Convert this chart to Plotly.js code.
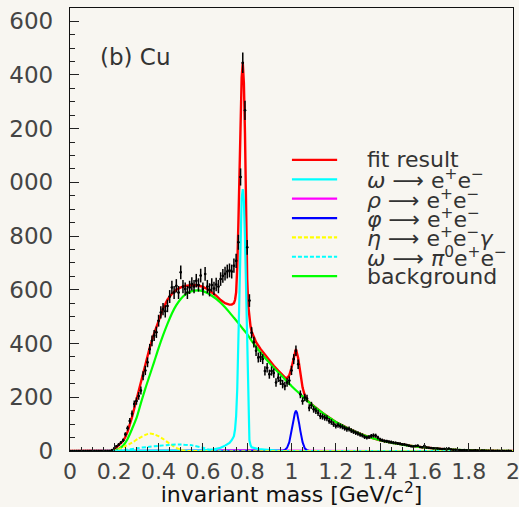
<!DOCTYPE html>
<html>
<head>
<meta charset="utf-8">
<script src="https://cdn.plot.ly/plotly-3.0.1.min.js"></script>
<style>
html,body{margin:0;padding:0;background:#f8f6f1;}
#chart{width:519px;height:507px;}
</style>
</head>
<body>
<div id="chart"></div>
<script>
// ---- measured spectrum: counts per 10 MeV bin, first bin centre 0.00 GeV/c^2 ----
const binStart = 0.0;
const binWidth = 0.01;
const counts = [
  0,0,0,0,0,0,0,0,0,0,
  0,0,0,0,0,0,0,0,0,4,
  10,18,24,32,40,62,85,112,139,175,
  186,205,225,280,300,330,379,410,430,442,
  485,516,528,520,540,575,609,590,615,590,
  665,612,603,590,609,622,612,634,618,653,
  603,659,612,600,618,605,620,612,640,652,
  660,668,672,668,690,708,777,1020,1445,1268,
  758,560,440,405,373,348,350,342,298,310,
  286,298,290,255,273,262,249,242,255,262,
  300,342,373,323,211,186,199,195,161,170,
  155,150,142,130,128,124,122,112,108,100,
  93,96,93,90,85,81,82,76,72,68,
  65,61,58,52,50,52,56,58,57,50,
  43,40,37,36,34,33,31,30,28,27,
  25,24,22,20,18,17,19,20,15,14,
  19,13,12,11,10,10,9,8,7,8,
  6,9,6,5,5,4,4,3,4,3,
  3,2,2,3,2,1,2,2,1,1,
  1,1,0,1,0,1,0,0,1,0
];

// ---- fit result (total) ----
const fitX = [0,0.18,0.19,0.20,0.21,0.22,0.23,0.24,0.25,0.26,0.27,0.28,0.29,0.30,0.32,0.34,0.36,0.38,0.40,0.42,0.44,0.46,0.48,0.50,0.52,0.54,0.56,0.58,0.60,0.62,0.64,0.66,0.68,0.70,0.72,0.73,0.74,0.745,0.75,0.755,0.76,0.765,0.77,0.775,0.78,0.785,0.79,0.795,0.80,0.805,0.81,0.815,0.82,0.83,0.84,0.86,0.88,0.90,0.92,0.94,0.96,0.97,0.98,0.99,1.00,1.01,1.02,1.03,1.04,1.05,1.06,1.07,1.08,1.10,1.12,1.14,1.16,1.18,1.20,1.25,1.30,1.35,1.40,1.45,1.50,1.55,1.60,1.65,1.70,1.75,1.80,1.85,1.90,1.95,2.00];
const fitY = [0,0,2,6,13,21,29,38,52,72,97,126,158,190,255,322,385,438,487,530,563,585,600,609,614,617,618,616,611,603,592,578,562,550,545,545,550,562,590,680,840,1040,1240,1390,1445,1370,1180,900,640,540,490,464,445,422,405,380,358,337,317,299,280,274,271,282,310,350,380,346,286,236,206,190,181,167,154,142,130,119,108,86,67,52,40,31,24,18,13,9,6,4,2.5,1.5,1,0.5,0];

// ---- omega -> e+e- ----
const omegaX = [0,0.55,0.60,0.65,0.68,0.70,0.72,0.73,0.74,0.745,0.75,0.755,0.76,0.765,0.77,0.775,0.78,0.785,0.79,0.795,0.80,0.805,0.81,0.815,0.82,0.85,0.90,0.95,1.0,2.0];
const omegaY = [0,0,2,6,12,20,30,40,55,80,130,230,390,590,800,940,975,930,790,580,330,110,40,22,14,7,3,1,0,0];

// ---- rho -> e+e- ----
const rhoX = [0,0.28,0.40,0.60,0.75,0.80,0.90,1.10,1.40,2.0];
const rhoY = [0,0,1,2,3,3,2,1,0,0];

// ---- phi -> e+e- ----
const phiX = [0,0.94,0.96,0.97,0.98,0.99,1.00,1.005,1.01,1.015,1.02,1.025,1.03,1.035,1.04,1.05,1.06,1.07,1.08,2.0];
const phiY = [0,0,1,4,12,33,70,95,118,140,150,142,125,100,75,33,10,3,0,0];

// ---- eta -> e+e-gamma ----
const etaX = [0,0.19,0.22,0.25,0.28,0.31,0.34,0.36,0.38,0.40,0.42,0.44,0.46,0.48,0.50,0.52,0.54,2.0];
const etaY = [0,0,6,18,31,47,60,65,62,55,45,33,22,12,5,1,0,0];

// ---- omega -> pi0 e+e- ----
const omDalX = [0,0.20,0.25,0.30,0.35,0.40,0.45,0.50,0.55,0.60,0.63,0.65,2.0];
const omDalY = [0,0,4,10,15,19,23,24,21,12,4,0,0];

// ---- background ----
const bgX = [0,0.18,0.20,0.22,0.24,0.26,0.28,0.30,0.32,0.34,0.36,0.38,0.40,0.42,0.44,0.46,0.48,0.50,0.52,0.54,0.56,0.58,0.60,0.62,0.64,0.66,0.68,0.70,0.72,0.74,0.76,0.78,0.80,0.82,0.84,0.86,0.88,0.90,0.92,0.94,0.96,0.98,1.00,1.02,1.04,1.06,1.08,1.10,1.12,1.14,1.16,1.18,1.20,1.25,1.30,1.35,1.40,1.45,1.50,1.55,1.60,1.65,1.70,1.75,1.80,1.85,1.90,1.95,2.00];
const bgY = [0,0,2,8,20,45,82,122,178,232,282,332,383,430,473,512,543,566,582,592,597,598,595,588,578,566,552,535,516,496,476,455,435,410,388,367,347,328,310,293,276,258,242,226,211,195,181,167,154,142,130,119,108,86,67,52,40,31,24,18,13,9,6,4,2.5,1.5,1,0.5,0];

// ---- axis ticks ----
const xTickVals = [0,0.2,0.4,0.6,0.8,1,1.2,1.4,1.6,1.8,2];
const xTickText = ['0','0.2','0.4','0.6','0.8','1','1.2','1.4','1.6','1.8','2'];
const yTickVals = [0,200,400,600,800,1000,1200,1400,1600];
const yTickText = ['0','200','400','600','800','000','200','400','600'];

// ---- legend entries ----
const legendNames = [
  'fit result',
  '<i>ω</i> ⟶ e<sup>+</sup>e<sup>−</sup>',
  '<i>ρ</i> ⟶ e<sup>+</sup>e<sup>−</sup>',
  '<i>φ</i> ⟶ e<sup>+</sup>e<sup>−</sup>',
  '<i>η</i> ⟶ e<sup>+</sup>e<sup>−</sup><i>γ</i>',
  '<i>ω</i> ⟶ <i>π</i><sup>0</sup>e<sup>+</sup>e<sup>−</sup>',
  'background'
];
const legendColors = ['#ff0000','#00ffff','#ff00ff','#0000ff','#ffff00','#00ffff','#00ff00'];
const legendDash = ['solid','solid','solid','solid','4px,2px','4px,2px','solid'];

const FONT = 'DejaVu Sans, Arial, sans-serif';

function curve(x, y, color, dash, width, shape) {
  return {type:'scatter', mode:'lines', x:x, y:y, showlegend:false, hoverinfo:'skip',
          line:{color:color, width:width, dash:dash, shape:shape, smoothing:0.8}};
}

const traces = [
  curve(fitX, fitY, legendColors[0], 'solid', 2.4, 'linear'),
  curve(bgX, bgY, legendColors[6], 'solid', 2.2, 'spline'),
  curve(rhoX, rhoY, legendColors[2], 'solid', 2, 'linear'),
  curve(phiX, phiY, legendColors[3], 'solid', 2, 'linear'),
  curve(omegaX, omegaY, legendColors[1], 'solid', 2.2, 'linear'),
  curve(etaX, etaY, legendColors[4], '4px,2px', 2, 'spline'),
  curve(omDalX, omDalY, legendColors[5], '4px,2px', 2, 'spline'),
  {type:'scatter', mode:'markers', x0:binStart, dx:binWidth, y:counts, showlegend:false,
   marker:{color:'#000', size:2.5},
   error_y:{type:'sqrt', color:'#000', thickness:1.5, width:0},
   error_x:{type:'constant', value:binWidth/2, color:'#000', thickness:1.5, width:0}}
];

// legend built from shapes + annotations (paper coords)
const legX0 = 0.501, legX1 = 0.603, legTextX = 0.666, legTop = 0.657, legStep = 0.0437;
const shapes = [];
const annotations = [];
legendNames.forEach((n, i) => {
  const yy = legTop - i*legStep;
  shapes.push({type:'line', xref:'paper', yref:'paper', x0:legX0, x1:legX1, y0:yy, y1:yy,
               line:{color:legendColors[i], width:2.2, dash:legendDash[i]}});
  annotations.push({xref:'paper', yref:'paper', x:legTextX, y:yy, xanchor:'left', yanchor:'middle',
                    text:n, showarrow:false, font:{family:FONT, size:22, color:'#333'}});
});
annotations.push({xref:'paper', yref:'paper', x:0.063, y:0.889, xanchor:'left', yanchor:'middle',
                  text:'(b) Cu', showarrow:false, font:{family:FONT, size:23, color:'#333'}});

const layout = {
  width:519, height:507,
  margin:{l:70, r:6, t:8, b:56},
  paper_bgcolor:'#f8f6f1', plot_bgcolor:'#f8f6f1',
  showlegend:false,
  font:{family:FONT, color:'#333'},
  xaxis:{range:[0,2], tickmode:'array', tickvals:xTickVals, ticktext:xTickText,
         ticks:'inside', ticklen:8, tickcolor:'#222', tickwidth:1,
         minor:{dtick:0.05, ticks:'inside', ticklen:4, tickcolor:'#222'},
         showline:true, linecolor:'#111', linewidth:1.2, mirror:true, showgrid:false, zeroline:false,
         tickfont:{family:FONT, size:22, color:'#444'}, automargin:false, ticklabeloverflow:'allow',
         title:{text:'invariant mass [GeV/c<sup>2</sup>]', font:{family:FONT, size:22, color:'#111'}, standoff:6}},
  yaxis:{range:[0,1649], tickmode:'array', tickvals:yTickVals, ticktext:yTickText,
         ticks:'inside', ticklen:9, tickcolor:'#222', tickwidth:1,
         minor:{dtick:50, ticks:'inside', ticklen:5, tickcolor:'#222'},
         showline:true, linecolor:'#111', linewidth:1.2, mirror:true, showgrid:false, zeroline:false,
         tickfont:{family:FONT, size:23, color:'#444'}, ticklabelstandoff:11, automargin:false,
         ticklabeloverflow:'allow'},
  shapes:shapes,
  annotations:annotations
};

Plotly.newPlot('chart', traces, layout, {displayModeBar:false, staticPlot:true});
</script>
</body>
</html>
